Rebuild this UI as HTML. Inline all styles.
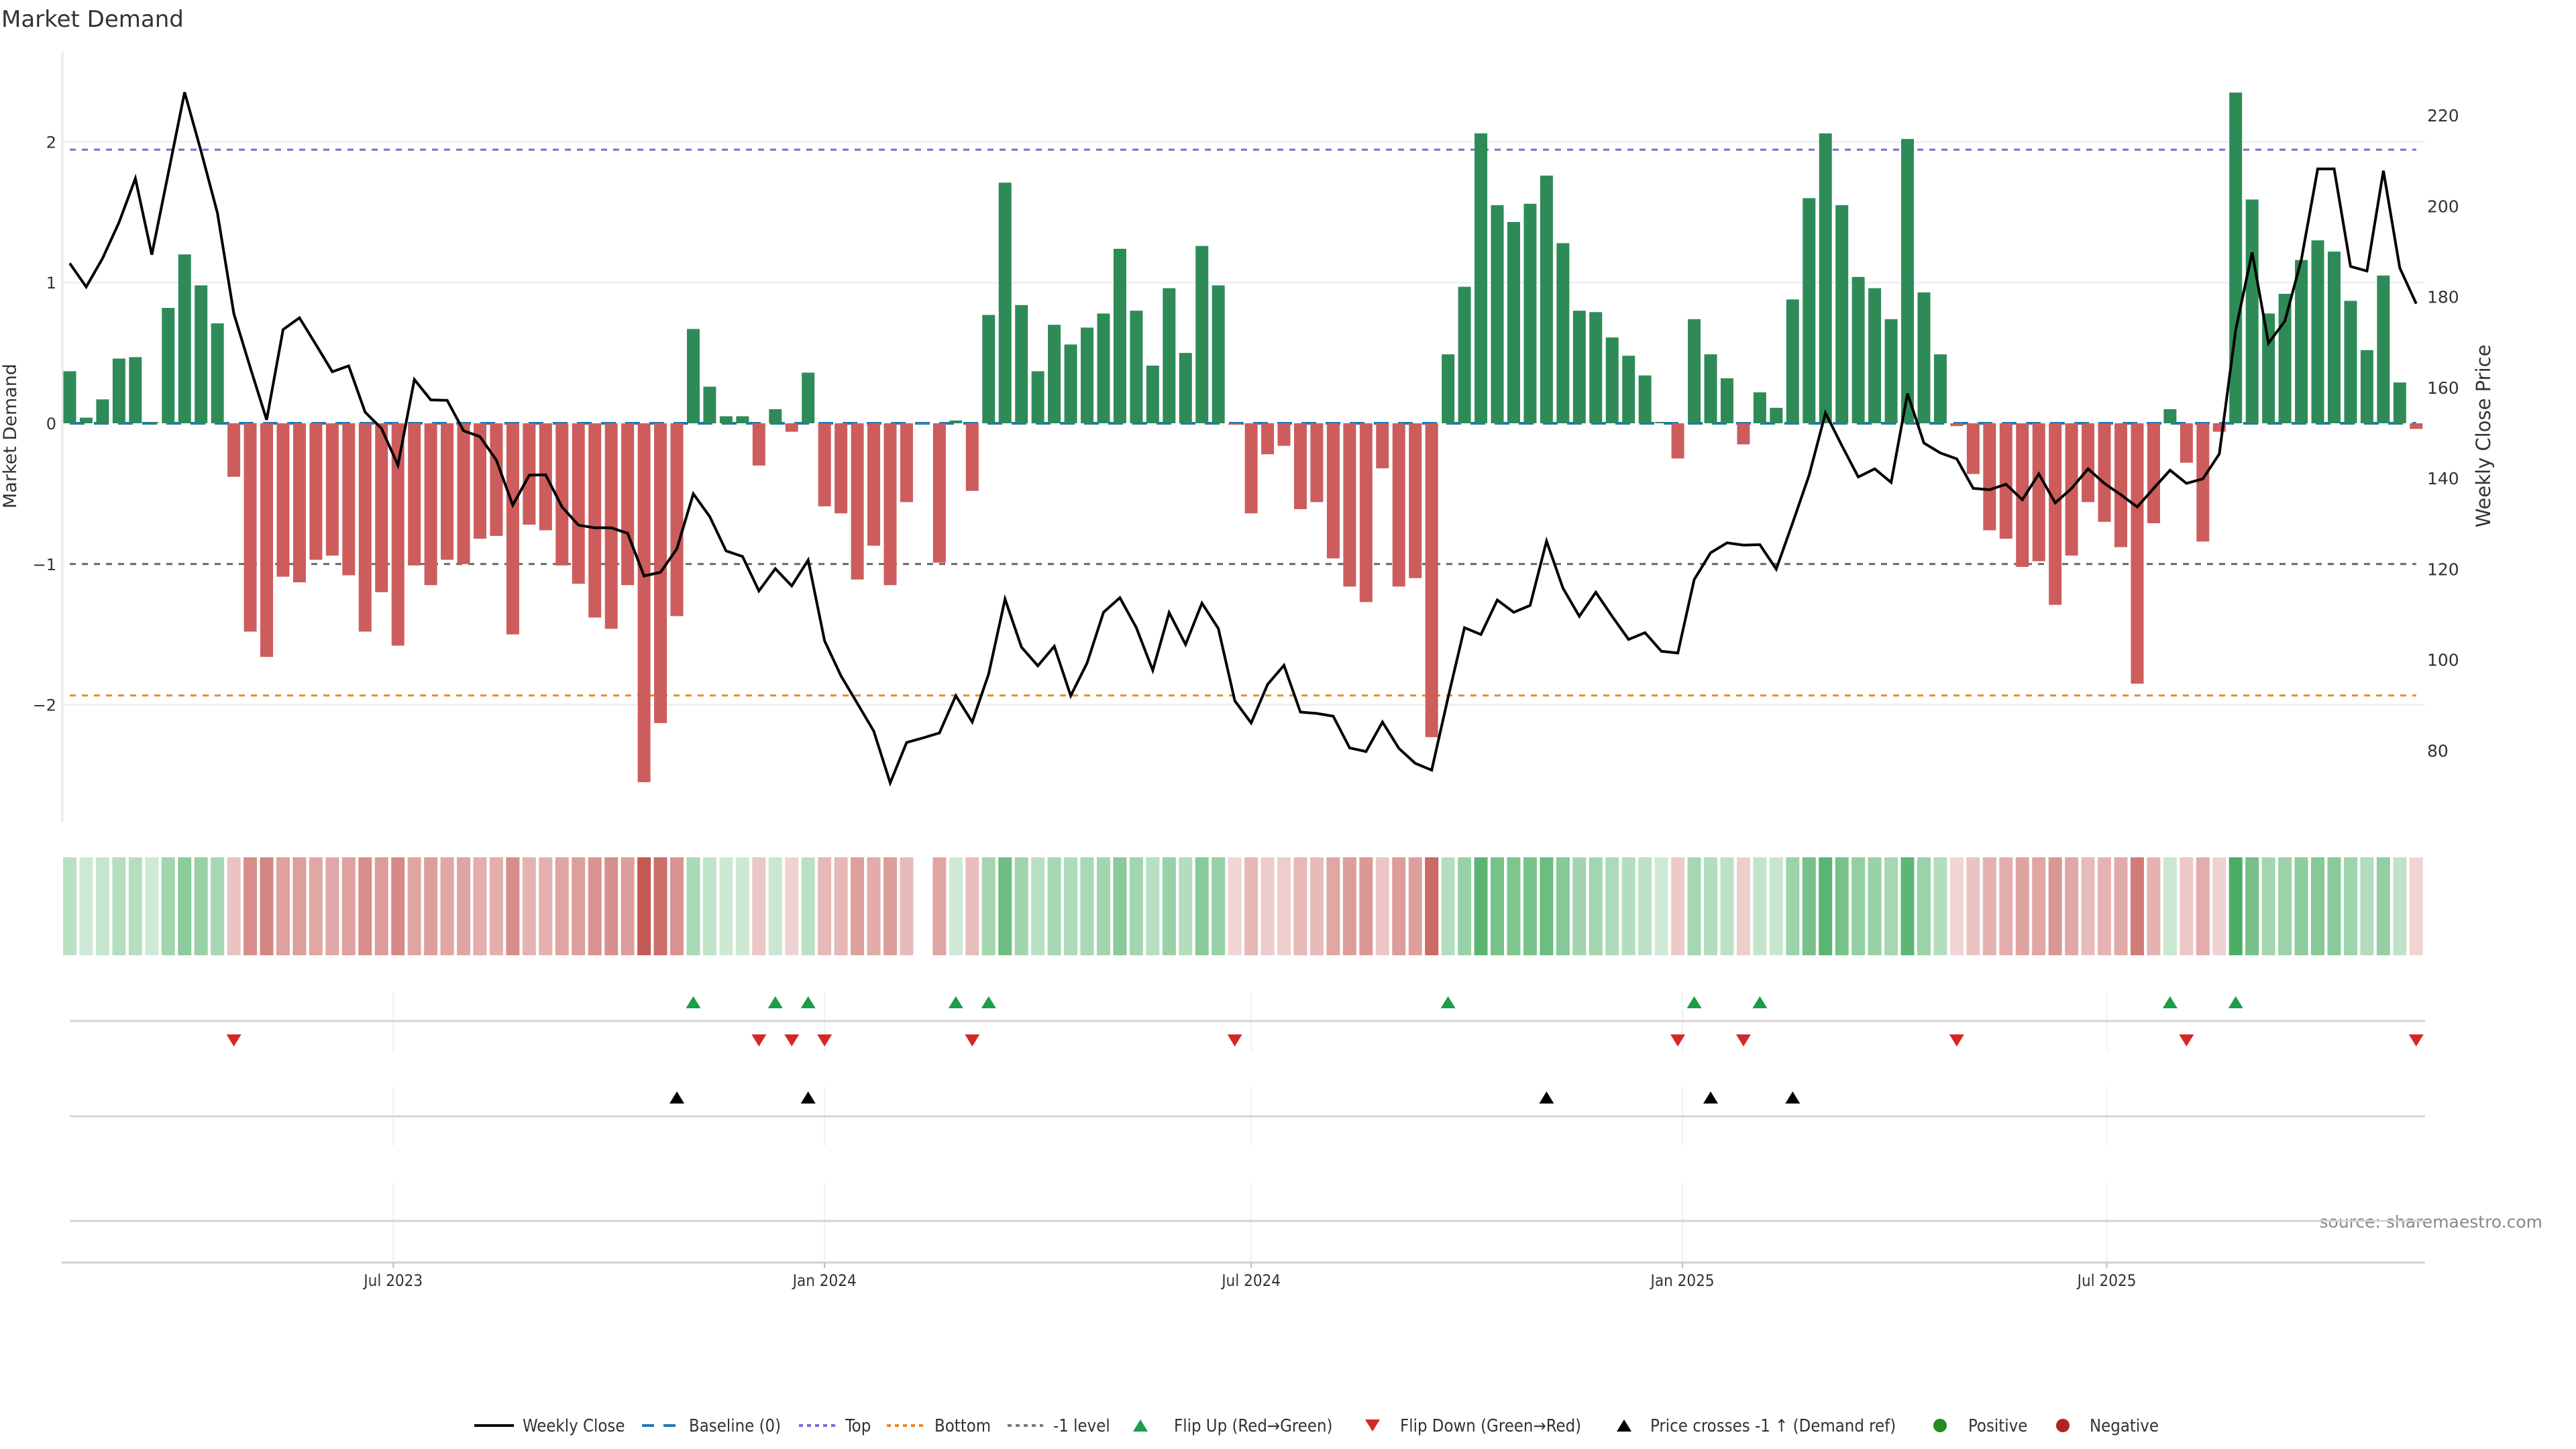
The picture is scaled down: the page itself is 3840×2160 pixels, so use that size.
<!DOCTYPE html>
<html><head><meta charset="utf-8"><title>Market Demand</title>
<style>
html,body{margin:0;padding:0;background:#fff;}
svg{display:block;font-family:"DejaVu Sans","Liberation Sans",sans-serif;}
.nar{font-family:"DejaVu Sans Condensed","Liberation Sans Narrow","Liberation Sans",sans-serif;}
</style></head>
<body>
<svg id="chart" width="3840" height="2160" viewBox="0 0 3840 2160" xmlns="http://www.w3.org/2000/svg">
<text x="2" y="40" font-size="34" fill="#333">Market Demand</text>
<text transform="translate(24,650) rotate(-90)" text-anchor="middle" font-size="27" fill="#333">Market Demand</text>
<text transform="translate(3712,650) rotate(-90)" text-anchor="middle" font-size="29" fill="#333">Weekly Close Price</text>
<text x="3790" y="1830" text-anchor="end" font-size="25" fill="#888">source: sharemaestro.com</text>
<g id="grid"></g><g id="refs"></g><g id="bars"></g><g id="line"></g><g id="heat"></g><g id="events"></g><g id="axes"></g><g id="legend"></g>
</svg>
<script>
const demand=[0.37,0.04,0.17,0.46,0.47,0.01,0.82,1.20,0.98,0.71,
-0.38,-1.48,-1.66,-1.09,-1.13,-0.97,-0.94,-1.08,-1.48,-1.20,
-1.58,-1.01,-1.15,-0.97,-1.00,-0.82,-0.80,-1.50,-0.72,-0.76,
-1.01,-1.14,-1.38,-1.46,-1.15,-2.55,-2.13,-1.37,0.67,0.26,
0.05,0.05,-0.30,0.10,-0.06,0.36,-0.59,-0.64,-1.11,-0.87,
-1.15,-0.56,-0.005,-0.99,0.02,-0.48,0.77,1.71,0.84,0.37,
0.70,0.56,0.68,0.78,1.24,0.80,0.41,0.96,0.50,1.26,
0.98,-0.01,-0.64,-0.22,-0.16,-0.61,-0.56,-0.96,-1.16,-1.27,
-0.32,-1.16,-1.10,-2.23,0.49,0.97,2.06,1.55,1.43,1.56,
1.76,1.28,0.80,0.79,0.61,0.48,0.34,0.01,-0.25,0.74,
0.49,0.32,-0.15,0.22,0.11,0.88,1.60,2.06,1.55,1.04,
0.96,0.74,2.02,0.93,0.49,-0.02,-0.36,-0.76,-0.82,-1.02,
-0.98,-1.29,-0.94,-0.56,-0.70,-0.88,-1.85,-0.71,0.10,-0.28,
-0.84,-0.06,2.35,1.59,0.78,0.92,1.16,1.30,1.22,0.87,
0.52,1.05,0.29,-0.04];
const price=[187.4,182.2,188.5,196.4,206.1,189.3,207.2,225.1,212.1,198.5,
176.3,164.4,152.9,172.8,175.4,169.5,163.5,164.8,154.6,151.0,
142.9,161.8,157.3,157.2,150.5,149.2,144.0,134.1,140.7,140.8,
133.7,129.7,129.1,129.1,127.9,118.5,119.3,124.5,136.6,131.6,
124.0,122.8,115.2,120.1,116.3,122.0,104.2,96.5,90.4,84.3,
72.9,81.8,82.8,83.9,92.1,86.3,96.9,113.4,102.8,98.7,
103.0,92.1,99.3,110.5,113.7,107.1,97.7,110.4,103.4,112.5,
106.9,91.0,86.1,94.6,98.8,88.5,88.2,87.6,80.6,79.8,
86.3,80.5,77.2,75.7,91.7,107.1,105.6,113.2,110.5,112.0,
126.2,115.8,109.6,114.9,109.6,104.5,106.0,101.9,101.5,117.7,
123.6,125.8,125.3,125.4,120.0,130.2,140.7,154.4,147.2,140.3,
142.1,139.1,158.7,147.8,145.6,144.3,137.8,137.5,138.7,135.3,
141.0,134.6,137.8,142.1,138.9,136.4,133.7,137.8,141.8,138.9,
139.9,145.4,172.7,189.8,169.8,174.7,188.2,208.2,208.2,186.7,
185.7,207.8,186.4,178.5];
const startDate="2023-02-13";
const tickDates=["2023-07-01","2024-01-01","2024-07-01","2025-01-01","2025-07-01"];
const tickLabels=["Jul 2023","Jan 2024","Jul 2024","Jan 2025","Jul 2025"];
const demandTicks=[2,1,0,-1,-2];
const demandTickLabels=["2","1","0","\u22121","\u22122"];
const priceTicks=[220,200,180,160,140,120,100,80];
const levelTop=[1.944];
const levelBottom=[-1.934];
const levelMinus1=[-1];

const NS="http://www.w3.org/2000/svg";
function mk(tag,attrs,parent,text){const e=document.createElementNS(NS,tag);for(const k in attrs)e.setAttribute(k,attrs[k]);if(text!==undefined)e.textContent=text;parent.appendChild(e);return e;}
const X0=104, STEP=24.46;
const xi=i=>X0+i*STEP;
const DAY=86400000;
const xd=d=>X0+((new Date(d)-new Date(startDate))/DAY)/7*STEP;
const yD=v=>631-v*209.8;
const yP=p=>172+(220-p)*6.764;
const pFromY=y=>220-(y-172)/6.764;
const xL=93, xR=3615, xEnd=X0+(demand.length-1)*STEP;

const grid=document.getElementById('grid');
[2,1,-2].forEach(v=>{const l=mk('line',{x1:xL,x2:xR,y1:yD(v),y2:yD(v),stroke:'#eef0f2','stroke-width':3},grid);

});
const lt=mk('line',{x1:xL,x2:xL,y1:78,y2:1225,stroke:'#e8e8e8','stroke-width':3},grid);



const refs=document.getElementById('refs');
const r1=mk('line',{x1:X0,x2:xEnd,y1:yD(levelTop[0]),y2:yD(levelTop[0]),stroke:'#7b68d8','stroke-width':3,'stroke-dasharray':'9 9'},refs);


const r2=mk('line',{x1:X0,x2:xEnd,y1:yD(levelBottom[0]),y2:yD(levelBottom[0]),stroke:'#e8892c','stroke-width':3,'stroke-dasharray':'9 9'},refs);


const r3=mk('line',{x1:X0,x2:xEnd,y1:yD(levelMinus1[0]),y2:yD(levelMinus1[0]),stroke:'#666','stroke-width':3,'stroke-dasharray':'9 9'},refs);


const r4=mk('line',{x1:X0,x2:xEnd,y1:yD(0),y2:yD(0),stroke:'#1f77b4','stroke-width':4,'stroke-dasharray':'22 14'},refs);



const bars=document.getElementById('bars');
demand.forEach((v,i)=>{const y0=yD(0),y1=yD(v);
const r=mk('rect',{x:xi(i)-9.5,y:Math.min(y0,y1),width:19,height:Math.abs(y1-y0),fill:v>=0?'#2e8b57':'#cd5c5c'},bars);

});

const lineG=document.getElementById('line');
const pl=mk('polyline',{points:price.map((p,i)=>xi(i).toFixed(1)+','+yP(p).toFixed(1)).join(' '),fill:'none',stroke:'#000','stroke-width':4,'stroke-linejoin':'miter'},lineG);



const heat=document.getElementById('heat');
function mix(base,a){return 'rgb('+base.map(c=>Math.round(255-(255-c)*a)).join(',')+')';}
demand.forEach((v,i)=>{if(Math.abs(v)<0.008)return;const t=Math.min(1,Math.abs(v)/2.55);const a=0.25+0.75*t;
const c=mix(v>=0?[63,169,90]:[197,90,85],a);
const r=mk('rect',{x:xi(i)-10,y:1278,width:20,height:146,fill:c},heat);

});

const ev=document.getElementById('events');
tickDates.forEach(d=>{const x=xd(d);
[[1478,1567],[1620,1708],[1763,1879]].forEach(s=>{const l=mk('line',{x1:x,x2:x,y1:s[0],y2:s[1],stroke:'#f0f0f0','stroke-width':2},ev);

});});
[1522,1664,1820].forEach(y=>{const l=mk('line',{x1:X0,x2:xR,y1:y,y2:y,stroke:'#d4d4d4','stroke-width':3},ev);

});
function tri(x,y,up,fill,name){const w=11,h=18;
const pts=up?`${x-w},${y+h/2} ${x+w},${y+h/2} ${x},${y-h/2}`:`${x-w},${y-h/2} ${x+w},${y-h/2} ${x},${y+h/2}`;
const p=mk('polygon',{points:pts,fill:fill},ev);

}
const thr=pFromY(yD(-1));
for(let i=1;i<demand.length;i++){
 if(demand[i]>0&&demand[i-1]<=0)tri(xi(i),1494,true,'#1a9e48','flip-up-marker');
 if(demand[i]<=0&&demand[i-1]>0)tri(xi(i),1551,false,'#d62728','flip-down-marker');
 if(price[i]>thr&&price[i-1]<=thr)tri(xi(i),1636,true,'#000','price-cross-marker');
}

const ax=document.getElementById('axes');
const bl=mk('line',{x1:92,x2:xR,y1:1882,y2:1882,stroke:'#d0d0d0','stroke-width':3},ax);


tickDates.forEach((d,k)=>{const x=xd(d);
const tk=mk('line',{x1:x,x2:x,y1:1882,y2:1890,stroke:'#bbb','stroke-width':2},ax);


const t=mk('text',{x:x,y:1917,'text-anchor':'middle','font-size':24,fill:'#333',class:'nar'},ax,tickLabels[k]);

});
demandTicks.forEach((v,k)=>{const t=mk('text',{x:84,y:yD(v)+9,'text-anchor':'end','font-size':24,fill:'#333'},ax,demandTickLabels[k]);

});
priceTicks.forEach(p=>{const t=mk('text',{x:3618,y:yP(p)+9,'font-size':25,fill:'#333'},ax,String(p));

});

const lg=document.getElementById('legend');
const LY=2125;
function ltext(x,s){const t=mk('text',{x:x,y:LY+9,'font-size':25.5,fill:'#333',class:'nar'},lg,s);

}
function lline(x1,x2,col,dash,w){const l=mk('line',{x1:x1,x2:x2,y1:LY,y2:LY,stroke:col,'stroke-width':w,'stroke-dasharray':dash},lg);

}
lline(707,766,'#000','none',4);ltext(779,'Weekly Close');
lline(957,1011,'#1f77b4','18 14',4);ltext(1027,'Baseline (0)');
lline(1191,1245,'#7b68d8','6 6',4);ltext(1260,'Top');
lline(1322,1377,'#e8892c','6 6',4);ltext(1393,'Bottom');
lline(1502,1555,'#777','6 6',4);ltext(1570,'-1 level');
function ltri(x,up,fill){const w=11,h=18,y=LY;
const pts=up?`${x-w},${y+h/2} ${x+w},${y+h/2} ${x},${y-h/2}`:`${x-w},${y-h/2} ${x+w},${y-h/2} ${x},${y+h/2}`;
const p=mk('polygon',{points:pts,fill:fill},lg);

}
ltri(1700,true,'#1a9e48');ltext(1750,'Flip Up (Red\u2192Green)');
ltri(2046,false,'#d62728');ltext(2087,'Flip Down (Green\u2192Red)');
ltri(2421,true,'#000');ltext(2460,'Price crosses -1 \u2191 (Demand ref)');
const c1=mk('circle',{cx:2892,cy:LY,r:10,fill:'#228b22'},lg);


ltext(2934,'Positive');
const c2=mk('circle',{cx:3075,cy:LY,r:10,fill:'#b22222'},lg);


ltext(3115,'Negative');
</script>
</body></html>
